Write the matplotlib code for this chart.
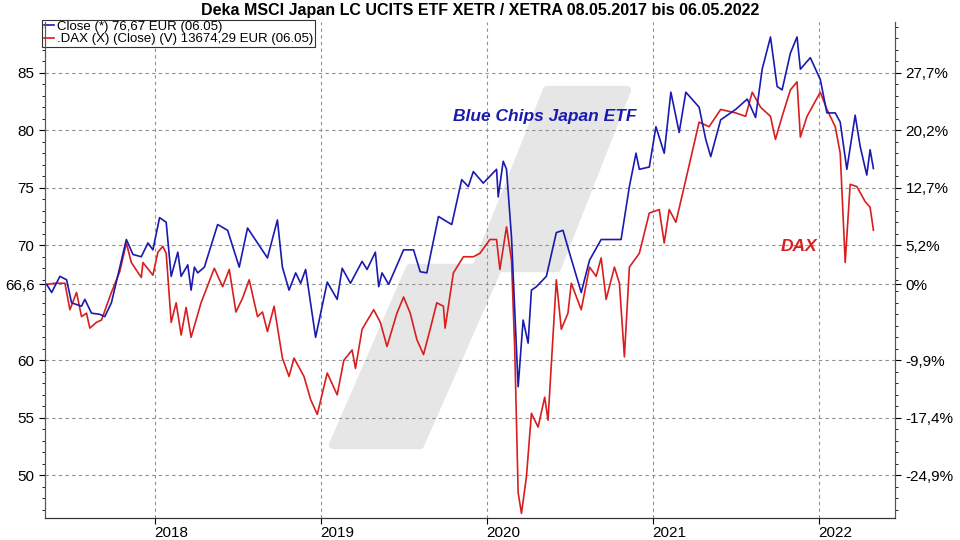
import matplotlib
matplotlib.use("Agg")
import matplotlib.pyplot as plt
from matplotlib.patches import Polygon
from matplotlib.ticker import MultipleLocator

plt.rcParams["font.family"] = "Liberation Sans"

# ETF (blue), price in EUR
etf_t = [2017.35, 2017.38, 2017.43, 2017.47, 2017.50, 2017.56, 2017.58, 2017.62, 2017.67, 2017.70,
         2017.74, 2017.83, 2017.87, 2017.92, 2017.96, 2017.99, 2018.03, 2018.07, 2018.10, 2018.14,
         2018.16, 2018.20, 2018.22, 2018.24, 2018.26, 2018.30, 2018.38, 2018.44, 2018.51, 2018.56,
         2018.62, 2018.68, 2018.74, 2018.77, 2018.81, 2018.85, 2018.88, 2018.91, 2018.97, 2019.04,
         2019.10, 2019.13, 2019.18, 2019.25, 2019.28, 2019.33, 2019.35, 2019.37, 2019.41, 2019.50,
         2019.56, 2019.60, 2019.64, 2019.71, 2019.79, 2019.85, 2019.89, 2019.92, 2019.98, 2020.06,
         2020.07, 2020.10, 2020.12, 2020.15, 2020.19, 2020.22, 2020.25, 2020.27, 2020.30, 2020.36,
         2020.42, 2020.46, 2020.50, 2020.57, 2020.62, 2020.69, 2020.81, 2020.86, 2020.90, 2020.92,
         2020.98, 2021.02, 2021.07, 2021.11, 2021.16, 2021.20, 2021.28, 2021.32, 2021.35, 2021.41,
         2021.50, 2021.57, 2021.62, 2021.66, 2021.71, 2021.75, 2021.78, 2021.83, 2021.87, 2021.89,
         2021.95, 2022.01, 2022.05, 2022.10, 2022.13, 2022.17, 2022.22, 2022.25, 2022.29, 2022.31,
         2022.33]
etf_v = [66.6, 65.9, 67.3, 67.0, 65.0, 64.7, 65.3, 64.1, 64.0, 63.8,
         65.0, 70.5, 69.2, 69.0, 70.2, 69.6, 72.4, 72.0, 67.3, 69.4,
         67.3, 68.3, 66.1, 68.1, 67.6, 68.1, 71.8, 71.3, 68.1, 71.5,
         70.2, 68.9, 72.2, 68.1, 66.1, 67.6, 66.7, 67.9, 62.0, 66.8,
         65.3, 68.0, 66.7, 68.6, 67.9, 69.4, 66.4, 67.6, 66.6, 69.6,
         69.6, 67.7, 67.6, 72.5, 71.8, 75.7, 75.1, 76.4, 75.4, 76.6,
         74.2, 77.3, 76.6, 70.7, 57.7, 63.5, 61.5, 66.1, 66.4, 67.3,
         71.1, 71.3, 69.3, 65.9, 68.7, 70.5, 70.5, 75.1, 78.0, 76.6,
         76.8, 80.3, 78.0, 83.3, 79.8, 83.3, 82.0, 79.2, 77.7, 80.9,
         81.8, 82.7, 81.1, 85.3, 88.1, 83.8, 83.5, 86.7, 88.1, 85.3,
         86.3, 84.4, 81.5, 81.5, 80.7, 76.6, 81.3, 78.6, 76.1, 78.3,
         76.67]

# DAX (red), rebased to ETF start value
dax_t = [2017.35, 2017.40, 2017.46, 2017.49, 2017.53, 2017.56, 2017.59, 2017.61, 2017.65, 2017.68,
         2017.74, 2017.79, 2017.83, 2017.86, 2017.92, 2017.93, 2017.99, 2018.02, 2018.05, 2018.07,
         2018.10, 2018.13, 2018.16, 2018.19, 2018.22, 2018.28, 2018.36, 2018.41, 2018.45, 2018.49,
         2018.53, 2018.57, 2018.62, 2018.65, 2018.68, 2018.72, 2018.77, 2018.81, 2018.84, 2018.90,
         2018.94, 2018.98, 2019.04, 2019.10, 2019.14, 2019.19, 2019.21, 2019.25, 2019.32, 2019.36,
         2019.40, 2019.46, 2019.50, 2019.54, 2019.58, 2019.62, 2019.66, 2019.70, 2019.74, 2019.75,
         2019.80, 2019.86, 2019.92, 2019.96, 2020.02, 2020.06, 2020.08, 2020.12, 2020.15, 2020.17,
         2020.19, 2020.21, 2020.24, 2020.27, 2020.31, 2020.35, 2020.37, 2020.42, 2020.45, 2020.49,
         2020.51, 2020.57, 2020.62, 2020.66, 2020.69, 2020.72, 2020.77, 2020.80, 2020.83, 2020.86,
         2020.92, 2020.98, 2021.04, 2021.07, 2021.10, 2021.14, 2021.20, 2021.28, 2021.34, 2021.41,
         2021.50, 2021.56, 2021.60, 2021.65, 2021.71, 2021.74, 2021.78, 2021.83, 2021.87, 2021.89,
         2021.93, 2022.01, 2022.05, 2022.10, 2022.13, 2022.16, 2022.19, 2022.23, 2022.28, 2022.31,
         2022.33]
dax_v = [66.6, 66.7, 66.7, 64.4, 65.9, 63.8, 64.1, 62.8, 63.3, 63.5,
         65.9, 67.7, 70.2, 68.5, 67.2, 68.5, 67.4, 69.4, 69.9, 69.3,
         63.3, 65.0, 62.2, 64.6, 62.0, 65.0, 68.0, 66.4, 67.9, 64.2,
         65.4, 67.0, 63.8, 64.2, 62.5, 64.7, 60.2, 58.6, 60.2, 58.6,
         56.6, 55.3, 58.9, 57.0, 60.0, 60.9, 59.3, 62.7, 64.4, 63.3,
         61.2, 64.1, 65.5, 64.1, 61.8, 60.5, 62.7, 65.0, 64.7, 62.8,
         67.6, 69.0, 69.0, 69.3, 70.5, 70.5, 67.9, 71.6, 68.7, 60.7,
         48.5, 46.7, 49.9, 55.4, 54.2, 56.8, 54.8, 67.0, 62.7, 64.1,
         66.7, 64.4, 68.1, 67.3, 68.9, 65.3, 68.1, 66.7, 60.3, 68.1,
         69.3, 72.8, 73.1, 70.2, 73.1, 72.0, 75.7, 80.7, 80.3, 81.8,
         81.5, 81.2, 83.3, 82.0, 81.2, 79.2, 81.2, 83.5, 84.2, 79.4,
         81.2, 83.3, 81.8, 80.3, 78.0, 68.5, 75.3, 75.1, 73.8, 73.3,
         71.3]

years = [2018, 2019, 2020, 2021, 2022]
left_ticks = [85, 80, 75, 70, 66.6, 60, 55, 50]
left_labels = ["85", "80", "75", "70", "66,6", "60", "55", "50"]
right_labels = ["27,7%", "20,2%", "12,7%", "5,2%", "0%", "-9,9%", "-17,4%", "-24,9%"]

fig = plt.figure(figsize=(9.6, 5.4), dpi=100)
ax = fig.add_axes([45 / 960, 1 - 518 / 540, 850 / 960, 496 / 540])

# grey watermark (pixel outline), kept under the lines
wm = [(333, 445), (420, 445), (498, 268), (557, 268), (627, 90), (547, 90), (476, 268), (410, 268)]
ax.add_patch(Polygon([(x / 960, 1 - y / 540) for x, y in wm], closed=True,
                     transform=fig.transFigure, facecolor="#e6e6e6", edgecolor="#e6e6e6",
                     lw=6, joinstyle="round", zorder=0.2))

ax.plot(dax_t, dax_v, color="#d81e1e", lw=1.2, zorder=3,
        label=".DAX (X) (Close) (V) 13674,29 EUR (06.05)")
ax.plot(etf_t, etf_v, color="#1a1ab0", lw=1.2, zorder=3, label="Close (*) 76,67 EUR (06.05)")

ax.set_xlim(2017.34, 2022.46)
ax.set_ylim(46.3, 89.4)
ax.set_xticks(years)
ax.set_xticklabels([str(y) for y in years], ha="left", fontsize=11)
ax.set_yticks(left_ticks)
ax.set_yticklabels(left_labels, fontsize=11)
ax.yaxis.set_minor_locator(MultipleLocator(1))
ax.tick_params(axis="x", length=4, pad=2)
ax.tick_params(axis="y", which="major", length=4)
ax.tick_params(axis="y", which="minor", length=2)
ax.grid(True, color="#909090", linestyle=(0, (3, 3)), lw=0.8)

ax2 = ax.twinx()
ax2.set_ylim(ax.get_ylim())
ax2.set_yticks(left_ticks)
ax2.set_yticklabels(right_labels, fontsize=11)
ax2.yaxis.set_minor_locator(MultipleLocator(1))
ax2.tick_params(axis="y", which="major", length=4)
ax2.tick_params(axis="y", which="minor", length=2)

for a in (ax, ax2):
    a.spines["top"].set_visible(False)
    a.spines["left"].set_color("#555555")
    a.spines["right"].set_color("#555555")
    a.spines["bottom"].set_color("#333333")

h, l = ax.get_legend_handles_labels()
leg = ax.legend(h[::-1], l[::-1], loc="upper left", bbox_to_anchor=(-0.003, 1.005), fontsize=9.5,
                frameon=True, fancybox=False, edgecolor="black", borderpad=0.1, handlelength=0.8,
                handletextpad=0.2, labelspacing=0.0, borderaxespad=0)
leg.get_frame().set_linewidth(0.8)
leg.set_zorder(5)

ax.text(2019.80, 80.8, "Blue Chips Japan ETF", color="#1a1ab0", fontsize=12.5,
        fontweight="bold", fontstyle="italic", zorder=4)
ax.text(2021.77, 69.5, "DAX", color="#d81e1e", fontsize=12.5, fontweight="bold",
        fontstyle="italic", zorder=4)

fig.text(0.5, 1 - 10 / 540, "Deka MSCI Japan LC UCITS ETF XETR / XETRA 08.05.2017 bis 06.05.2022",
         ha="center", va="center", fontsize=11.5, fontweight="bold")

fig.savefig("out.png", dpi=100)
